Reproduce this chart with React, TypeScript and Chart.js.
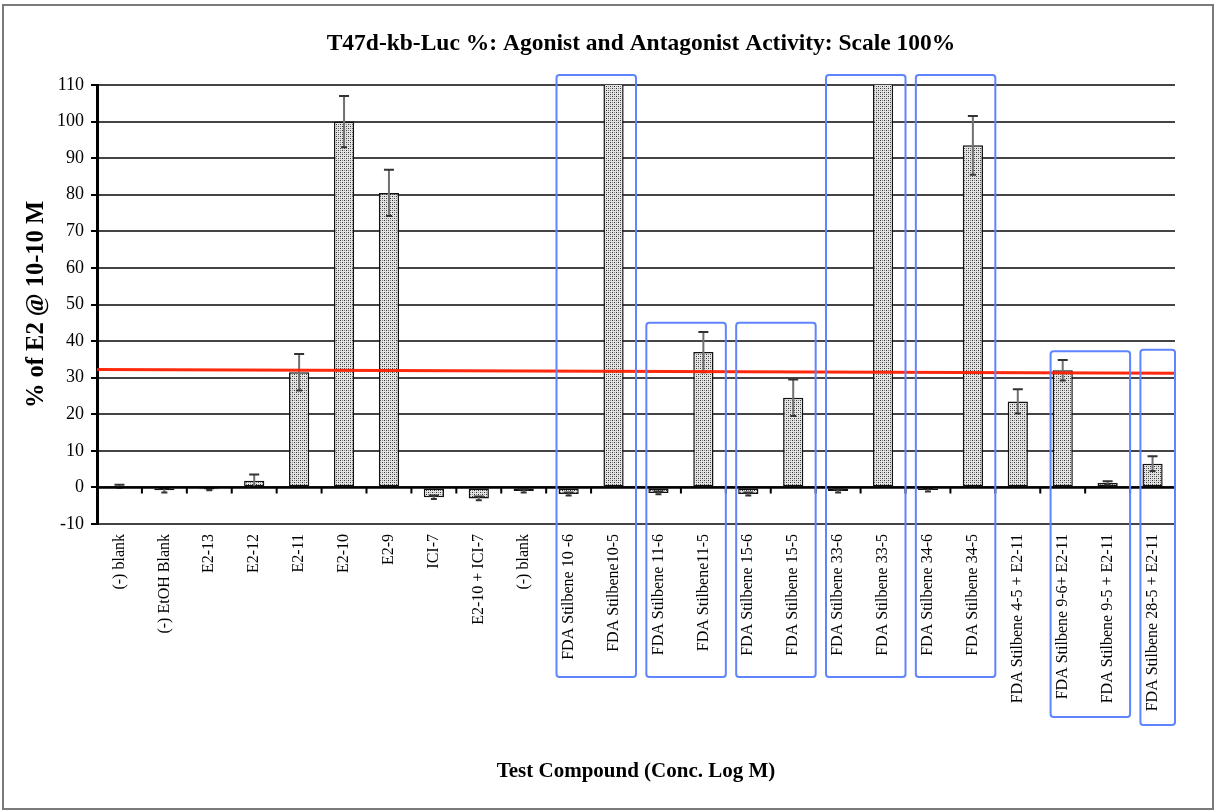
import React, { useEffect, useRef } from "react";
import { Chart, registerables } from "chart.js";

Chart.register(...registerables);

const chartTitle = "T47d-kb-Luc %: Agonist and Antagonist Activity: Scale 100%";
const yAxisTitle = "% of E2 @ 10-10 M";
const xAxisTitle = "Test Compound (Conc. Log M)";

const categories = [
  "(-) blank",
  "(-) EtOH Blank",
  "E2-13",
  "E2-12",
  "E2-11",
  "E2-10",
  "E2-9",
  "ICI-7",
  "E2-10 + ICI-7",
  "(-) blank",
  "FDA Stilbene 10 -6",
  "FDA Stilbene10-5",
  "FDA Stilbene 11-6",
  "FDA Stilbene11-5",
  "FDA Stilbene 15-6",
  "FDA Stilbene 15-5",
  "FDA Stilbene 33-6",
  "FDA Stilbene 33-5",
  "FDA Stilbene 34-6",
  "FDA Stilbene 34-5",
  "FDA Stilbene 4-5 + E2-11",
  "FDA Stilbene 9-6+ E2-11",
  "FDA Stilbene 9-5 + E2-11",
  "FDA Stilbene 28-5 + E2-11",
];

const values = [
  0.3, -0.8, -0.5, 1.8, 31.5, 100, 80.5, -2.7, -3.0, -1.0,
  -1.8, 125, -1.5, 37, -1.8, 24.5, -1.0, 125, -0.7, 93.5,
  23.5, 32, 1.2, 6.5,
];

const errors = [
  0.4, 0.6, 0.3, 1.7, 5, 7, 6.3, 0.5, 0.5, 0.4,
  0.4, 8, 0.4, 5.5, 0.4, 5, 0.4, 8, 0.4, 8,
  3.3, 2.8, 0.5, 2,
];

const yMin = -10;
const yMax = 110;
const yStep = 10;

const thresholdStart = 32.2;
const thresholdEnd = 31.2;

// highlighted groups: category index range, top value, drop below plot (px)
const boxFrom = [10, 12, 14, 16, 18, 21, 23];
const boxTo = [11, 13, 15, 17, 19, 22, 23];
const boxTop = [112.7, 45, 45, 112.7, 112.7, 37.2, 37.6];
const boxDrop = [153, 153, 153, 153, 153, 193, 201];

const FONT = '"Liberation Serif", "Times New Roman", Times, serif';

function makePattern(): CanvasPattern | string {
  const c = document.createElement("canvas");
  c.width = 4;
  c.height = 4;
  const g = c.getContext("2d");
  if (!g) return "#ccc";
  g.fillStyle = "#e4e4e4";
  g.fillRect(0, 0, 4, 4);
  g.fillStyle = "#333";
  g.fillRect(0, 0, 1, 1);
  g.fillRect(2, 2, 1, 1);
  g.fillStyle = "#888";
  g.fillRect(2, 0, 1, 1);
  g.fillRect(0, 2, 1, 1);
  const p = g.createPattern(c, "repeat");
  return p || "#ccc";
}

const overlayPlugin = {
  id: "overlay",
  beforeDraw(chart: any) {
    const ctx = chart.ctx;
    ctx.save();
    ctx.fillStyle = "#fff";
    ctx.fillRect(0, 0, chart.width, chart.height);
    ctx.strokeStyle = "#7a7a7a";
    ctx.lineWidth = 2;
    ctx.strokeRect(3, 5, chart.width - 5, chart.height - 6);
    ctx.restore();
  },
  afterDatasetsDraw(chart: any) {
    const ctx = chart.ctx;
    const x = chart.scales.x;
    const y = chart.scales.y;
    const area = chart.chartArea;
    const step = x.getPixelForValue(1) - x.getPixelForValue(0);

    // error bars
    ctx.save();
    ctx.beginPath();
    ctx.rect(area.left, area.top, area.right - area.left, area.bottom - area.top);
    ctx.clip();
    values.forEach((v, i) => {
      const e = errors[i];
      const cx = x.getPixelForValue(i);
      const yHi = y.getPixelForValue(v + e);
      const yLo = y.getPixelForValue(v - e);
      ctx.strokeStyle = "#707070";
      ctx.lineWidth = 2;
      ctx.beginPath();
      ctx.moveTo(cx, yHi);
      ctx.lineTo(cx, yLo);
      ctx.stroke();
      ctx.strokeStyle = "#333";
      ctx.lineWidth = 2;
      ctx.beginPath();
      ctx.moveTo(cx - 5, yHi);
      ctx.lineTo(cx + 5, yHi);
      ctx.moveTo(cx - 3, yLo);
      ctx.lineTo(cx + 3, yLo);
      ctx.stroke();
    });
    ctx.restore();

    // zero line with tick marks
    ctx.save();
    const y0 = y.getPixelForValue(0);
    ctx.strokeStyle = "#000";
    ctx.lineWidth = 2.5;
    ctx.beginPath();
    ctx.moveTo(area.left, y0);
    ctx.lineTo(area.right, y0);
    ctx.stroke();
    ctx.lineWidth = 2;
    ctx.beginPath();
    for (let i = 1; i <= categories.length; i++) {
      const bx = x.getPixelForValue(i) - step / 2;
      ctx.moveTo(bx, y0);
      ctx.lineTo(bx, y0 + 6);
    }
    ctx.stroke();
    ctx.restore();

    // threshold line
    ctx.save();
    ctx.strokeStyle = "rgba(255,30,0,0.95)";
    ctx.lineWidth = 3;
    ctx.beginPath();
    ctx.moveTo(area.left, y.getPixelForValue(thresholdStart));
    ctx.lineTo(area.right, y.getPixelForValue(thresholdEnd));
    ctx.stroke();
    ctx.restore();
  },
  afterDraw(chart: any) {
    const ctx = chart.ctx;
    const x = chart.scales.x;
    const y = chart.scales.y;
    const area = chart.chartArea;
    const step = x.getPixelForValue(1) - x.getPixelForValue(0);

    ctx.save();
    ctx.strokeStyle = "#5f84ff";
    ctx.lineWidth = 2;
    boxFrom.forEach((from, k) => {
      const l = x.getPixelForValue(from) - step * 0.27;
      const r = x.getPixelForValue(boxTo[k]) + step * 0.5;
      const t = y.getPixelForValue(boxTop[k]);
      const b = area.bottom + boxDrop[k];
      ctx.beginPath();
      if ((ctx as any).roundRect) {
        (ctx as any).roundRect(l, t, r - l, b - t, 3);
      } else {
        ctx.rect(l, t, r - l, b - t);
      }
      ctx.stroke();
    });
    ctx.restore();

    ctx.save();
    ctx.fillStyle = "#000";
    ctx.font = `bold 23.5px ${FONT}`;
    ctx.textAlign = "center";
    ctx.textBaseline = "middle";
    ctx.fillText(chartTitle, (area.left + area.right) / 2 + 5, 44);
    ctx.restore();
  },
};

export default function App() {
  const ref = useRef<HTMLCanvasElement | null>(null);

  useEffect(() => {
    if (!ref.current) return;
    const pattern = makePattern();
    const chart = new Chart(ref.current, {
      type: "bar",
      data: {
        labels: categories,
        datasets: [
          {
            label: "Activity",
            data: values,
            backgroundColor: pattern as any,
            borderColor: "#111",
            borderWidth: 1.5,
            borderSkipped: false,
            categoryPercentage: 1,
            barPercentage: 0.45,
          },
        ],
      },
      options: {
        responsive: false,
        animation: false,
        layout: { padding: { left: 12, top: 85, right: 40, bottom: 20 } },
        plugins: {
          legend: { display: false },
          title: { display: false },
          tooltip: { enabled: false },
        },
        scales: {
          x: {
            offset: true,
            grid: { display: false, drawTicks: false },
            border: { display: false },
            ticks: {
              autoSkip: false,
              maxRotation: 90,
              minRotation: 90,
              padding: 10,
              color: "#000",
              font: { family: FONT, size: 16 },
            },
            title: {
              display: true,
              text: xAxisTitle,
              color: "#000",
              font: { family: FONT, size: 21, weight: "bold" },
              padding: { top: 4, bottom: 6 },
            },
            afterFit(scale: any) {
              scale.height = 266;
            },
          },
          y: {
            min: yMin,
            max: yMax,
            ticks: {
              stepSize: yStep,
              padding: 7,
              color: "#000",
              font: { family: FONT, size: 18 },
            },
            grid: {
              color: "#444",
              lineWidth: 2,
              tickLength: 6,
              tickColor: "#000",
              tickWidth: 2,
            },
            border: { display: true, color: "#000", width: 3 },
            title: {
              display: true,
              text: yAxisTitle,
              color: "#000",
              font: { family: FONT, size: 24.5, weight: "bold" },
              padding: { top: 10, bottom: 4 },
            },
            afterFit(scale: any) {
              scale.width = 85;
            },
          },
        },
      },
      plugins: [overlayPlugin],
    });
    return () => chart.destroy();
  }, []);

  return (
    <div style={{ position: "absolute", left: 0, top: 0, width: 1215, height: 810 }}>
      <canvas ref={ref} width={1215} height={810} style={{ width: 1215, height: 810, display: "block" }} />
    </div>
  );
}
